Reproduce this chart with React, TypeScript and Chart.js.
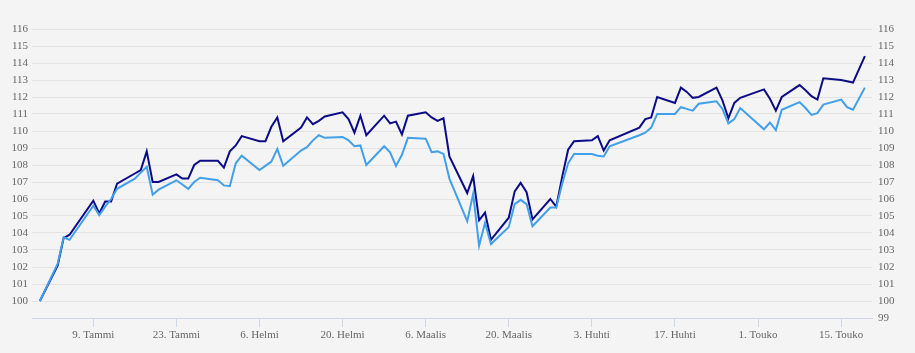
import React, { useEffect, useRef } from "react";
import { Chart, registerables } from "chart.js";

Chart.register(...registerables);

const dates: string[] = [
  "2022-12-31", "2023-01-03", "2023-01-04", "2023-01-05", "2023-01-09", "2023-01-10", "2023-01-11", "2023-01-12", "2023-01-13",
  "2023-01-16", "2023-01-17", "2023-01-18", "2023-01-19", "2023-01-20",
  "2023-01-23", "2023-01-24", "2023-01-25", "2023-01-26", "2023-01-27",
  "2023-01-30", "2023-01-31", "2023-02-01", "2023-02-02", "2023-02-03",
  "2023-02-06", "2023-02-07", "2023-02-08", "2023-02-09", "2023-02-10",
  "2023-02-13", "2023-02-14", "2023-02-15", "2023-02-16", "2023-02-17",
  "2023-02-20", "2023-02-21", "2023-02-22", "2023-02-23", "2023-02-24",
  "2023-02-27", "2023-02-28", "2023-03-01", "2023-03-02", "2023-03-03",
  "2023-03-06", "2023-03-07", "2023-03-08", "2023-03-09", "2023-03-10",
  "2023-03-13", "2023-03-14", "2023-03-15", "2023-03-16", "2023-03-17",
  "2023-03-20", "2023-03-21", "2023-03-22", "2023-03-23", "2023-03-24",
  "2023-03-27", "2023-03-28", "2023-03-29", "2023-03-30", "2023-03-31",
  "2023-04-03", "2023-04-04", "2023-04-05", "2023-04-06",
  "2023-04-11", "2023-04-12", "2023-04-13", "2023-04-14",
  "2023-04-17", "2023-04-18", "2023-04-19", "2023-04-20", "2023-04-21",
  "2023-04-24", "2023-04-25", "2023-04-26", "2023-04-27", "2023-04-28",
  "2023-05-02", "2023-05-03", "2023-05-04", "2023-05-05",
  "2023-05-08", "2023-05-09", "2023-05-10", "2023-05-11", "2023-05-12",
  "2023-05-15", "2023-05-16", "2023-05-17", "2023-05-19",
];

const seriesDark: number[] = [
  100, 102.1, 103.7, 103.9, 105.9, 105.15, 105.85, 105.85, 106.9,
  107.5, 107.7, 108.8, 107.0, 107.0,
  107.45, 107.2, 107.2, 108.0, 108.25,
  108.25, 107.85, 108.8, 109.15, 109.7,
  109.4, 109.4, 110.25, 110.8, 109.4,
  110.2, 110.8, 110.4, 110.6, 110.85,
  111.1, 110.7, 109.9, 110.9, 109.75,
  110.9, 110.45, 110.55, 109.8, 110.9,
  111.1, 110.8, 110.6, 110.75, 108.5,
  106.35, 107.35, 104.75, 105.2, 103.6,
  104.9, 106.45, 106.95, 106.4, 104.8,
  106.0, 105.55, 107.3, 108.9, 109.4,
  109.45, 109.7, 108.85, 109.45,
  110.2, 110.7, 110.8, 112.0,
  111.65, 112.55, 112.3, 111.95, 112.0,
  112.55, 111.8, 110.75, 111.65, 111.95,
  112.45, 111.9, 111.2, 112.0,
  112.7, 112.4, 112.05, 111.85, 113.1,
  113.0, 112.93, 112.85, 114.4,
];

const seriesLight: number[] = [
  100, 102.2, 103.75, 103.6, 105.6, 105.05, 105.55, 106.0, 106.6,
  107.2, 107.55, 107.9, 106.25, 106.55,
  107.1, 106.85, 106.6, 107.0, 107.25,
  107.1, 106.8, 106.75, 108.1, 108.55,
  107.7, 107.95, 108.2, 108.95, 107.95,
  108.85, 109.05, 109.45, 109.75, 109.6,
  109.65, 109.45, 109.1, 109.15, 108.0,
  109.1, 108.75, 107.95, 108.6, 109.6,
  109.55, 108.75, 108.8, 108.65, 107.2,
  104.7, 106.3, 103.25, 104.6, 103.35,
  104.35, 105.7, 105.95, 105.7, 104.4,
  105.5, 105.5, 106.9, 108.1, 108.65,
  108.65, 108.55, 108.5, 109.1,
  109.75, 109.9, 110.2, 111.0,
  111.0, 111.4, 111.3, 111.2, 111.6,
  111.75, 111.3, 110.45, 110.7, 111.35,
  110.1, 110.5, 110.05, 111.25,
  111.7, 111.35, 110.95, 111.05, 111.55,
  111.85, 111.4, 111.25, 112.55,
];

const tickDates: string[] = [
  "2023-01-09", "2023-01-23", "2023-02-06", "2023-02-20", "2023-03-06",
  "2023-03-20", "2023-04-03", "2023-04-17", "2023-05-01", "2023-05-15",
];

const monthNames: string[] = ["Tammi", "Helmi", "Maalis", "Huhti", "Touko", "Kesä", "Heinä", "Elo", "Syys", "Loka", "Marras", "Joulu"];

const BASE = Date.UTC(2023, 0, 1);
const toDay = (s: string): number => {
  const [y, m, d] = s.split("-").map(Number);
  return (Date.UTC(y, m - 1, d) - BASE) / 86400000;
};
const dayLabel = (day: number): string => {
  const dt = new Date(BASE + Math.round(day) * 86400000);
  return `${dt.getUTCDate()}. ${monthNames[dt.getUTCMonth()]}`;
};

const X_MIN = -2.33;
const X_MAX = 139.2;
const Y_MIN = 99;
const Y_MAX = 116;

const FONT = { family: "'Liberation Serif', 'Times New Roman', serif", size: 11 };
const LABEL_COLOR = "#666666";

export default function App() {
  const ref = useRef<HTMLCanvasElement | null>(null);

  useEffect(() => {
    if (!ref.current) return;
    const xs = dates.map(toDay);
    const tickDays = tickDates.map(toDay);
    const chart = new Chart(ref.current, {
      type: "line",
      data: {
        datasets: [
          {
            label: "A",
            data: xs.map((x, i) => ({ x, y: seriesLight[i] })),
            borderColor: "#42a0ea",
            borderWidth: 2,
            pointRadius: 0,
            tension: 0,
            yAxisID: "y",
          },
          {
            label: "B",
            data: xs.map((x, i) => ({ x, y: seriesDark[i] })),
            borderColor: "#0c0c88",
            borderWidth: 2,
            pointRadius: 0,
            tension: 0,
            yAxisID: "y",
          },
        ],
      },
      options: {
        animation: false,
        responsive: false,
        maintainAspectRatio: false,
        events: [],
        layout: { padding: { top: 29, left: 0, right: 0, bottom: 0 } },
        plugins: { legend: { display: false }, tooltip: { enabled: false } },
        scales: {
          x: {
            type: "linear",
            min: X_MIN,
            max: X_MAX,
            afterBuildTicks: (scale: any) => {
              scale.ticks = tickDays.map((v) => ({ value: v }));
            },
            afterFit: (scale: any) => {
              scale.height = 35;
            },
            ticks: {
              autoSkip: false,
              maxRotation: 0,
              padding: 2,
              color: LABEL_COLOR,
              font: FONT,
              callback: (v: any) => dayLabel(Number(v)),
            },
            grid: {
              drawOnChartArea: false,
              drawTicks: true,
              tickLength: 9,
              color: "#ccd6eb",
              lineWidth: 1,
            },
            border: { display: true, color: "#ccd6eb", width: 1 },
          },
          y: {
            type: "linear",
            position: "left",
            min: Y_MIN,
            max: Y_MAX,
            afterFit: (scale: any) => {
              scale.width = 32;
            },
            ticks: {
              stepSize: 1,
              padding: 4,
              color: LABEL_COLOR,
              font: FONT,
              callback: (v: any) => (Number(v) === Y_MIN ? "" : String(v)),
            },
            grid: { color: "#e3e3e3", lineWidth: 1, drawTicks: false },
            border: { display: false },
          },
          y2: {
            type: "linear",
            position: "right",
            min: Y_MIN,
            max: Y_MAX,
            afterFit: (scale: any) => {
              scale.width = 43;
            },
            ticks: {
              stepSize: 1,
              padding: 6,
              color: LABEL_COLOR,
              font: FONT,
              callback: (v: any) => String(v),
            },
            grid: { display: false, drawTicks: false },
            border: { display: false },
          },
        },
      },
      plugins: [
        {
          id: "bg",
          beforeDraw: (c: any) => {
            const ctx = c.ctx;
            ctx.save();
            ctx.fillStyle = "#f4f4f4";
            ctx.fillRect(0, 0, c.width, c.height);
            ctx.restore();
          },
        },
      ],
    } as any);
    return () => chart.destroy();
  }, []);

  return (
    <div style={{ position: "fixed", left: 0, top: 0, width: 915, height: 353, background: "#f4f4f4" }}>
      <canvas ref={ref} width={915} height={353} style={{ display: "block", width: 915, height: 353 }} />
    </div>
  );
}
